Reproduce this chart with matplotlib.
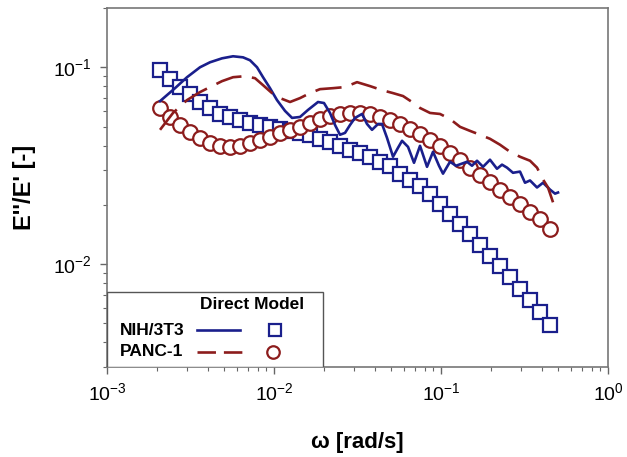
import matplotlib
matplotlib.use("Agg")
import matplotlib.pyplot as plt
from matplotlib.patches import Rectangle
from matplotlib.ticker import LogLocator, NullFormatter, LogFormatterMathtext

plt.rcParams['font.family'] = ['Liberation Sans', 'DejaVu Sans']
plt.rcParams['mathtext.fontset'] = 'custom'
plt.rcParams['mathtext.rm'] = 'Liberation Sans'
plt.rcParams['mathtext.default'] = 'regular'

# model points (same frequency grid for both cell lines)
omega_model = [0.002075, 0.002382, 0.002735, 0.003141, 0.003606, 0.004130, 0.004742, 0.005445,
               0.006252, 0.007178, 0.008241, 0.009462, 0.01086, 0.01247, 0.01432, 0.01641,
               0.01884, 0.02163, 0.02483, 0.02851, 0.03273, 0.03758, 0.04315, 0.04955,
               0.05689, 0.06516, 0.07482, 0.08590, 0.09863, 0.1132, 0.1300, 0.1493,
               0.1714, 0.1968, 0.2259, 0.2588, 0.2972, 0.3412, 0.3917, 0.4498]
nih_model = [0.0966, 0.0870, 0.0793, 0.0731, 0.0666, 0.0621, 0.0579, 0.0559,
             0.0540, 0.0521, 0.0509, 0.0498, 0.0486, 0.0475, 0.0464, 0.0454,
             0.0433, 0.0418, 0.0399, 0.0381, 0.0368, 0.0351, 0.0331, 0.0316,
             0.0288, 0.0269, 0.0248, 0.0226, 0.0201, 0.0179, 0.0159, 0.0142,
             0.0125, 0.0110, 0.00977, 0.00859, 0.00748, 0.00658, 0.00573, 0.00492]
panc_model = [0.0621, 0.0559, 0.0509, 0.0470, 0.0438, 0.0413, 0.0399, 0.0394,
              0.0399, 0.0413, 0.0428, 0.0443, 0.0464, 0.0481, 0.0498, 0.0521,
              0.0546, 0.0566, 0.0579, 0.0586, 0.0586, 0.0579, 0.0559, 0.0540,
              0.0515, 0.0486, 0.0459, 0.0428, 0.0399, 0.0368, 0.0339, 0.0309,
              0.0285, 0.0260, 0.0239, 0.0218, 0.0201, 0.0183, 0.0169, 0.0150]

# direct measurements
omega_nih = [0.002077, 0.002554, 0.003013, 0.003605, 0.004138, 0.004882, 0.005684, 0.006524,
             0.007184, 0.007910, 0.008594, 0.009463, 0.01042, 0.01164, 0.01282, 0.01431,
             0.01598, 0.01834, 0.01992, 0.02164, 0.02319, 0.02484, 0.02662, 0.02852,
             0.03055, 0.03365, 0.03605, 0.03862, 0.04196, 0.04433, 0.04749, 0.05160,
             0.05528, 0.05843, 0.06346, 0.06892, 0.07486, 0.08246, 0.08957, 0.09727,
             0.1028, 0.1132, 0.1230, 0.1336, 0.1431, 0.1533, 0.1643, 0.1785,
             0.1965, 0.2164, 0.2319, 0.2484, 0.2698, 0.2972, 0.3184, 0.3412,
             0.3758, 0.4082, 0.4495, 0.4816, 0.5021]
nih_direct = [0.0673, 0.0783, 0.0890, 0.1000, 0.1060, 0.1110, 0.1137, 0.1123,
              0.1085, 0.1000, 0.0890, 0.0783, 0.0681, 0.0600, 0.0553, 0.0559,
              0.0607, 0.0666, 0.0658, 0.0586, 0.0509, 0.0454, 0.0464, 0.0509,
              0.0553, 0.0579, 0.0515, 0.0481, 0.0515, 0.0515, 0.0438, 0.0351,
              0.0390, 0.0423, 0.0394, 0.0327, 0.0399, 0.0312, 0.0372, 0.0316,
              0.0288, 0.0331, 0.0316, 0.0324, 0.0331, 0.0316, 0.0335, 0.0312,
              0.0339, 0.0305, 0.0320, 0.0309, 0.0291, 0.0295, 0.0259, 0.0266,
              0.0245, 0.0259, 0.0239, 0.0228, 0.0231]

omega_panc = [0.002077, 0.002484, 0.003013, 0.003605, 0.004138, 0.004882, 0.005684, 0.006705,
              0.007694, 0.008594, 0.009727, 0.01086, 0.01247, 0.01431, 0.01642, 0.01885,
              0.02256, 0.02662, 0.03141, 0.03758, 0.04433, 0.05160, 0.05924, 0.06705,
              0.07486, 0.08594, 0.09863, 0.1132, 0.1300, 0.1492, 0.1712, 0.1965,
              0.2256, 0.2589, 0.2972, 0.3412, 0.3758, 0.4082, 0.4372, 0.4686]
panc_direct = [0.0481, 0.0586, 0.0681, 0.0748, 0.0793, 0.0850, 0.0890, 0.0901,
               0.0880, 0.0811, 0.0739, 0.0697, 0.0666, 0.0697, 0.0739, 0.0774,
               0.0783, 0.0793, 0.0840, 0.0802, 0.0765, 0.0739, 0.0714, 0.0666,
               0.0621, 0.0586, 0.0579, 0.0546, 0.0498, 0.0475, 0.0454, 0.0433,
               0.0404, 0.0372, 0.0351, 0.0335, 0.0309, 0.0269, 0.0245, 0.0206]

blue = '#1a1f8c'
red = '#8c1c1c'
sq_size = 9.5
circ_size = 10.5
mew = 1.6
lw = 1.9
dash = (10, 4)

fig = plt.figure(figsize=(6.27, 4.57), dpi=100)
ax = fig.add_axes([0.1707, 0.1969, 0.799, 0.7856])

ax.plot(omega_model, nih_model, linestyle='none', marker='s', markersize=sq_size,
        markerfacecolor='white', markeredgecolor=blue, markeredgewidth=mew, zorder=3)
ax.plot(omega_model, panc_model, linestyle='none', marker='o', markersize=circ_size,
        markerfacecolor='white', markeredgecolor=red, markeredgewidth=mew, zorder=3)
ax.plot(omega_nih, nih_direct, color=blue, linewidth=lw, zorder=4)
ax.plot(omega_panc, panc_direct, color=red, linewidth=lw, dashes=dash, zorder=4)

ax.set_xscale('log')
ax.set_yscale('log')
ax.set_xlim(1e-3, 1)
ax.set_ylim(0.003, 0.2)

for axis in (ax.xaxis, ax.yaxis):
    axis.set_major_locator(LogLocator(base=10))
    axis.set_minor_locator(LogLocator(base=10, subs=range(2, 10)))
    axis.set_major_formatter(LogFormatterMathtext())
    axis.set_minor_formatter(NullFormatter())

ax.tick_params(which='major', direction='out', length=5, width=1, color='#666666',
               labelsize=14, pad=6)
ax.tick_params(which='minor', direction='out', length=3, width=0.8, color='#666666')
for sp in ax.spines.values():
    sp.set_color('#777777')
    sp.set_linewidth(1.2)

ax.set_xlabel('ω [rad/s]', fontsize=16, fontweight='bold', labelpad=20)
ax.set_ylabel("E''/E' [-]", fontsize=17, fontweight='bold', labelpad=12)

# legend box in the lower left corner
tr = ax.transAxes
ax.add_patch(Rectangle((0, 0), 0.431, 0.209, transform=tr, facecolor='white',
                       edgecolor='#555555', linewidth=1.0, zorder=5))
ax.text(0.289, 0.173, 'Direct Model', transform=tr, ha='center', va='center',
        fontsize=12.5, fontweight='bold', zorder=6)
ax.text(0.026, 0.103, 'NIH/3T3', transform=tr, ha='left', va='center',
        fontsize=12.5, fontweight='bold', zorder=6)
ax.text(0.026, 0.042, 'PANC-1', transform=tr, ha='left', va='center',
        fontsize=12.5, fontweight='bold', zorder=6)
ax.plot([0.180, 0.265], [0.103, 0.103], transform=tr, color=blue, linewidth=lw, zorder=6)
ax.plot([0.180, 0.272], [0.042, 0.042], transform=tr, color=red, linewidth=lw,
        dashes=(7, 3), zorder=6)
ax.plot([0.335], [0.103], transform=tr, marker='s', markersize=8, markerfacecolor='white',
        markeredgecolor=blue, markeredgewidth=mew, zorder=6)
ax.plot([0.332], [0.042], transform=tr, marker='o', markersize=9, markerfacecolor='white',
        markeredgecolor=red, markeredgewidth=mew, zorder=6)

fig.savefig('out.png', dpi=100)
